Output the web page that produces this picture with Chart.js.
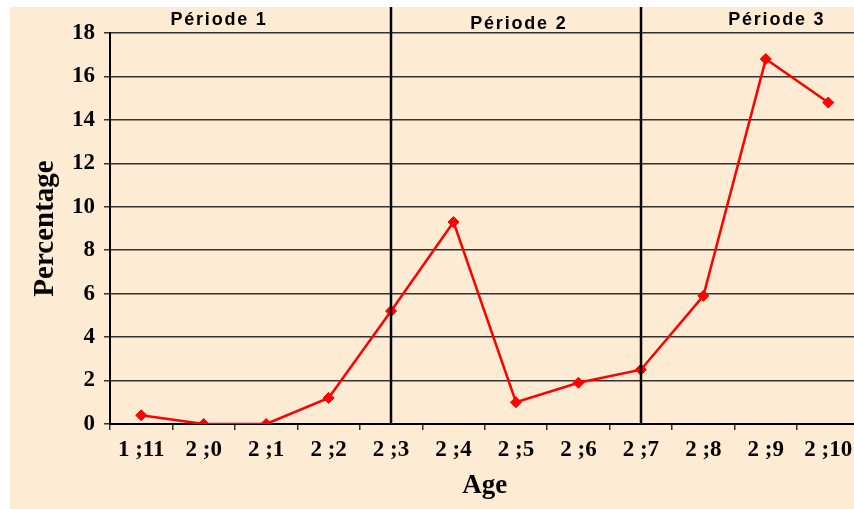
<!DOCTYPE html>
<html>
<head>
<meta charset="utf-8">
<script src="https://cdn.jsdelivr.net/npm/chart.js@4.4.0/dist/chart.umd.min.js"></script>
<style>
  html, body { margin: 0; padding: 0; background: #ffffff; overflow: hidden; width: 854px; height: 509px; }
  #wrap { position: absolute; left: 0; top: 0; width: 866px; height: 509px; }
</style>
</head>
<body>
<div id="wrap"><canvas id="c" width="866" height="509"></canvas></div>
<script>
const ages = ['1 ;11', '2 ;0', '2 ;1', '2 ;2', '2 ;3', '2 ;4', '2 ;5', '2 ;6', '2 ;7', '2 ;8', '2 ;9', '2 ;10'];
const percentages = [0.4, 0, 0, 1.2, 5.2, 9.3, 1.0, 1.9, 2.5, 5.9, 16.8, 14.8];
const yTicks = [0, 2, 4, 6, 8, 10, 12, 14, 16, 18];
const periodLabels = ['Période 1', 'Période 2', 'Période 3'];
const periodCenters = [1.23, 6.03, 10.16];
const periodDividers = ['2 ;3', '2 ;7'];

const PEACH = 'rgb(253,235,212)';

const backgroundPlugin = {
  id: 'bg',
  beforeDraw(chart) {
    const ctx = chart.ctx;
    ctx.save();
    ctx.fillStyle = '#ffffff';
    ctx.fillRect(0, 0, chart.width, chart.height);
    ctx.fillStyle = PEACH;
    ctx.fillRect(10, 7, chart.width - 10, chart.height - 7);
    ctx.restore();
  }
};

const periodsPlugin = {
  id: 'periods',
  afterDatasetsDraw(chart) {
    const ctx = chart.ctx;
    const xs = chart.scales.x;
    const area = chart.chartArea;
    ctx.save();
    ctx.strokeStyle = '#000000';
    ctx.lineWidth = 2.5;
    periodDividers.forEach(lbl => {
      const px = Math.round(xs.getPixelForValue(ages.indexOf(lbl)));
      ctx.beginPath();
      ctx.moveTo(px, 7);
      ctx.lineTo(px, area.bottom);
      ctx.stroke();
    });
    ctx.fillStyle = '#000000';
    ctx.font = 'bold 18px "Liberation Sans", Arial, sans-serif';
    ctx.textAlign = 'center';
    ctx.textBaseline = 'alphabetic';
    try { ctx.letterSpacing = '1.8px'; } catch (e) {}
    const baselines = [25, 28.5, 25];
    periodLabels.forEach((t, i) => {
      const px = xs.getPixelForValue(periodCenters[i]);
      ctx.fillText(t, px + 1, baselines[i]);
    });
    ctx.restore();
  }
};

new Chart(document.getElementById('c'), {
  type: 'line',
  data: {
    labels: ages,
    datasets: [{
      data: percentages,
      borderColor: '#ff0000',
      backgroundColor: '#ff0000',
      borderWidth: 2.5,
      pointStyle: 'rectRot',
      pointRadius: 5.5,
      pointHoverRadius: 5.5,
      pointBorderWidth: 1,
      tension: 0,
      fill: false
    }]
  },
  options: {
    responsive: false,
    animation: false,
    devicePixelRatio: 1,
    layout: { padding: { left: 0, right: 0, top: 33, bottom: 0 } },
    plugins: { legend: { display: false }, tooltip: { enabled: false } },
    scales: {
      x: {
        type: 'category',
        offset: true,
        grid: { offset: true, drawOnChartArea: false, drawTicks: true, tickLength: 6, color: '#333333', lineWidth: 1.5 },
        border: { display: true, color: '#000000', width: 2 },
        ticks: {
          color: '#000000',
          font: { family: '"Liberation Serif", "Times New Roman", serif', size: 23, weight: 'bold' },
          padding: 6,
          maxRotation: 0,
          autoSkip: false
        },
        title: {
          display: true,
          text: 'Age',
          color: '#000000',
          font: { family: '"Liberation Serif", "Times New Roman", serif', size: 27, weight: 'bold' },
          padding: { top: 0, bottom: 7 }
        },
        afterFit(scale) { scale.height = 85; }
      },
      y: {
        min: 0,
        max: 18,
        afterBuildTicks(scale) { scale.ticks = yTicks.map(v => ({ value: v })); },
        grid: { drawOnChartArea: true, drawTicks: true, tickLength: 6, color: '#333333', lineWidth: 1.5 },
        border: { display: true, color: '#000000', width: 2 },
        ticks: {
          color: '#000000',
          font: { family: '"Liberation Serif", "Times New Roman", serif', size: 23, weight: 'bold' },
          padding: 9
        },
        title: {
          display: true,
          text: 'Percentage',
          color: '#000000',
          font: { family: '"Liberation Serif", "Times New Roman", serif', size: 29, weight: 'bold' },
          padding: { top: 28, bottom: 0 }
        },
        afterFit(scale) { scale.width = 110; }
      }
    }
  },
  plugins: [backgroundPlugin, periodsPlugin]
});
</script>
</body>
</html>
